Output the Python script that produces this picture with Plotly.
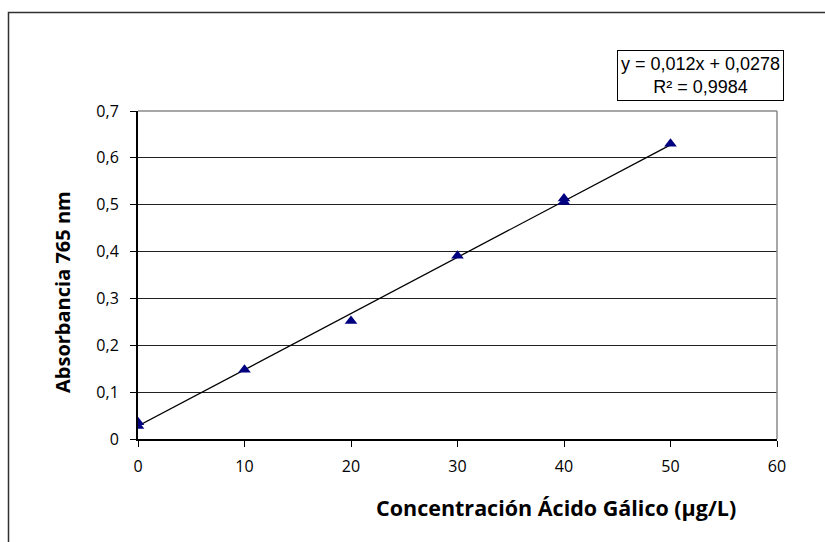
import plotly.graph_objects as go

# Data
conc = [0, 0, 10, 20, 30, 40, 40, 50]
absorb = [0.028, 0.036, 0.148, 0.252, 0.391, 0.506, 0.513, 0.630]

slope = 0.012
intercept = 0.0278
trend_x = [0, 50]
trend_y = [intercept + slope * v for v in trend_x]

x_ticks = [0, 10, 20, 30, 40, 50, 60]
y_ticks = [0, 0.1, 0.2, 0.3, 0.4, 0.5, 0.6, 0.7]
y_tick_text = ["0", "0,1", "0,2", "0,3", "0,4", "0,5", "0,6", "0,7"]

eq_text = "y = 0,012x + 0,0278<br>R² = 0,9984"
x_title = "Concentración Ácido Gálico (µg/L)"
y_title = "Absorbancia 765 nm"

fig = go.Figure()
fig.add_trace(go.Scatter(x=trend_x, y=trend_y, mode="lines",
                         line=dict(color="black", width=1.3), showlegend=False,
                         hoverinfo="skip"))
fig.add_trace(go.Scatter(x=conc, y=absorb, mode="markers",
                         marker=dict(symbol="triangle-up", color="#000080", size=11,
                                     line=dict(width=0)), showlegend=False))

tick_font = dict(family="Open Sans, sans-serif", size=16, color="black")

fig.update_layout(
    width=825, height=542,
    margin=dict(l=138, r=48, t=111, b=103),
    paper_bgcolor="white", plot_bgcolor="white",
    xaxis=dict(range=[0, 60], tickvals=x_ticks, ticktext=[str(v) for v in x_ticks],
               showgrid=False, zeroline=False, showline=True, linecolor="black",
               linewidth=2, ticks="outside", ticklen=6, tickcolor="black",
               tickwidth=1, tickfont=tick_font, ticklabelstandoff=6),
    yaxis=dict(range=[0, 0.7], tickvals=y_ticks, ticktext=y_tick_text,
               showgrid=True, gridcolor="#202020", gridwidth=1, zeroline=False,
               showline=True, linecolor="black", linewidth=2, ticks="outside",
               ticklen=6, tickcolor="black", tickwidth=1, tickfont=tick_font,
               ticklabelstandoff=8),
    font=tick_font,
)

# plot area border (gray, top & right)
fig.add_shape(type="line", xref="paper", yref="paper", x0=0, x1=1, y0=1, y1=1,
              line=dict(color="#8a8a8a", width=1.5))
fig.add_shape(type="line", xref="paper", yref="paper", x0=1, x1=1, y0=0, y1=1,
              line=dict(color="#8a8a8a", width=1.5))

# outer chart border
pw, ph = 639.0, 328.0
fig.add_shape(type="rect", xref="paper", yref="paper",
              x0=(8.5 - 138) / pw, x1=(900 - 138) / pw,
              y0=(439 - 620) / ph, y1=(439 - 12.5) / ph,
              line=dict(color="#303030", width=1.5), fillcolor="rgba(0,0,0,0)",
              layer="below")

# equation box
fig.add_annotation(xref="paper", yref="paper",
                   x=(700.5 - 138) / pw, y=(439 - 75.5) / ph,
                   xanchor="center", yanchor="middle",
                   text=eq_text, showarrow=False, align="center",
                   font=dict(family="Liberation Sans, Arial, sans-serif", size=18, color="black"),
                   bordercolor="black", borderwidth=1, borderpad=3, bgcolor="white")

# axis titles
fig.add_annotation(xref="paper", yref="paper",
                   x=(556 - 138) / pw, y=(439 - 507) / ph,
                   xanchor="center", yanchor="middle", showarrow=False,
                   text="<b>" + x_title + "</b>",
                   font=dict(family="Open Sans, sans-serif", size=21.5, color="black"))
fig.add_annotation(xref="paper", yref="paper",
                   x=(62 - 138) / pw, y=(439 - 292) / ph,
                   xanchor="center", yanchor="middle", showarrow=False, textangle=-90,
                   text="<b>" + y_title + "</b>",
                   font=dict(family="Open Sans, sans-serif", size=20, color="black"))

fig.write_html("out.html")
